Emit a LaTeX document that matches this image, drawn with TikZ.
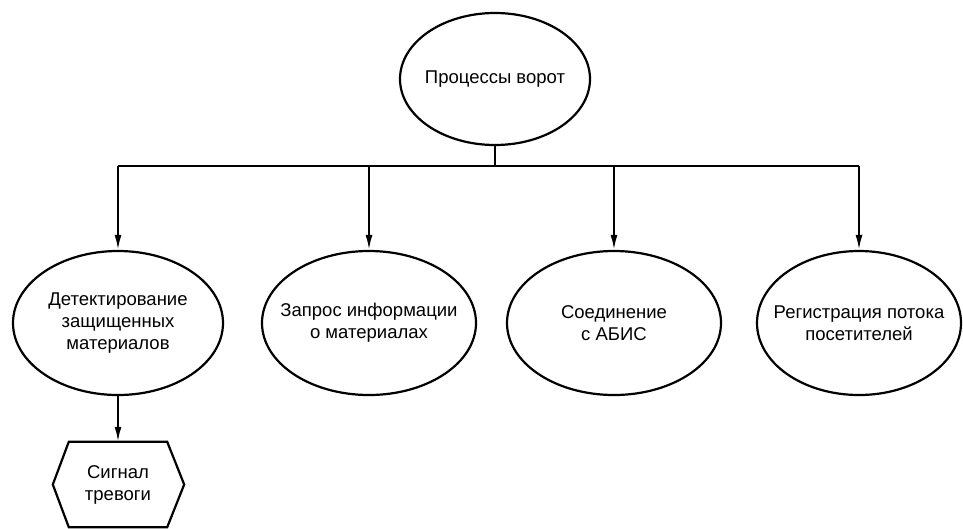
\documentclass[tikz,border=0pt]{standalone}
\usepackage{fontspec}
\setmainfont{Liberation Sans}
\usetikzlibrary{shapes.geometric,arrows.meta,calc}
\begin{document}
\begin{tikzpicture}[x=1pt,y=-1pt,
  every node/.style={font=\fontsize{18.5}{22}\selectfont, align=center},
  oval/.style={draw, line width=2.2pt, ellipse, inner sep=0pt, minimum height=144pt},
  txt/.style={label={[align=center, font=\fontsize{18.5}{22}\selectfont]center:#1}},
  link/.style={line width=2.2pt},
  arr/.style={line width=2pt, -{Latex[length=15pt,width=7pt]}}]
\useasboundingbox (0,0) rectangle (963,528);
\node[oval, minimum width=190pt, minimum height=132pt, txt={Процессы ворот}] (top) at (495,79) {};
\node[oval, minimum width=210pt, txt={Детектирование\\защищенных\\материалов}] (e1) at (118,323) {};
\node[oval, minimum width=214pt, txt={Запрос информации\\о материалах}] (e2) at (369,323) {};
\node[oval, minimum width=214pt, txt={Соединение\\с АБИС}] (e3) at (614,323) {};
\node[oval, minimum width=204pt, txt={Регистрация потока\\посетителей}] (e4) at (859,323) {};
\node[minimum width=98pt, minimum height=85pt, inner sep=0pt] (sig) at (118,484.5) {Сигнал\\тревоги};
\draw[link] (sig.north west) -- (sig.north east) -- ($(sig.east)+(17,0)$) -- (sig.south east) -- (sig.south west) -- ($(sig.west)+(-16,0)$) -- cycle;
\coordinate (bar) at (492,166);
\draw[link] (top.south) -- (top.south |- bar);
\draw[link] (e1.north |- bar) -- (e4.north |- bar);
\foreach \n in {e1,e2,e3,e4} \draw[arr] (\n.north |- bar) -- (\n.north);
\draw[arr] (e1.south) -- (sig.north);
\end{tikzpicture}
\end{document}
